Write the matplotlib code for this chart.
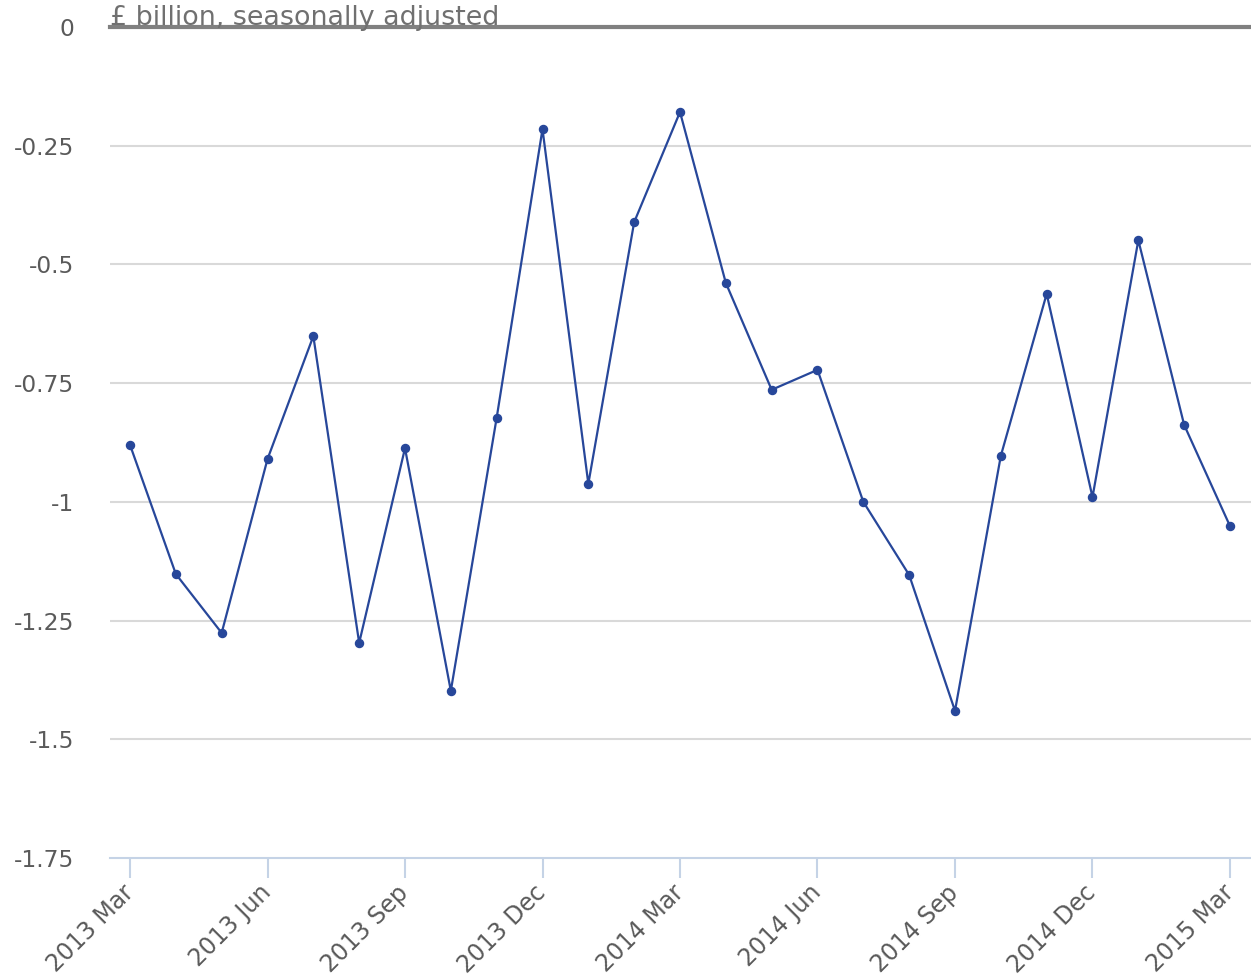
import numpy as np
import matplotlib
matplotlib.use("Agg")
import matplotlib.pyplot as plt
from matplotlib.transforms import ScaledTranslation

# monthly values, 2013 Mar .. 2015 Mar
months = ['2013 Mar', '2013 Apr', '2013 May', '2013 Jun', '2013 Jul', '2013 Aug',
          '2013 Sep', '2013 Oct', '2013 Nov', '2013 Dec', '2014 Jan', '2014 Feb',
          '2014 Mar', '2014 Apr', '2014 May', '2014 Jun', '2014 Jul', '2014 Aug',
          '2014 Sep', '2014 Oct', '2014 Nov', '2014 Dec', '2015 Jan', '2015 Feb',
          '2015 Mar']
values = [-0.880, -1.152, -1.276, -0.910, -0.651, -1.297,
          -0.887, -1.398, -0.823, -0.215, -0.962, -0.411,
          -0.179, -0.539, -0.764, -0.722, -1.000, -1.154,
          -1.440, -0.903, -0.562, -0.990, -0.449, -0.838,
          -1.051]
y_ticks = [0, -0.25, -0.5, -0.75, -1, -1.25, -1.5, -1.75]
y_labels = ['0', '-0.25', '-0.5', '-0.75', '-1', '-1.25', '-1.5', '-1.75']
subtitle = '£ billion, seasonally adjusted'

W, H = 1251, 977
fig = plt.figure(figsize=(W / 100, H / 100), dpi=100)
ax = fig.add_axes([110 / W, 1 - 858 / H, 1141 / W, 831 / H])

x = np.arange(len(values))
ax.plot(x, values, color='#27479a', lw=1.6, marker='o', ms=5.8, zorder=3, clip_on=False)

ax.set_ylim(-1.75, 0)
ax.set_xlim(-20 / 45.83, 24 + 21 / 45.83)

# grid and zero line
for yv in y_ticks[1:-1]:
    ax.axhline(yv, color='#d9d9d9', lw=1.5, zorder=1)
ax.axhline(0, color='#808080', lw=3, zorder=2, clip_on=False)

for s in ['top', 'left', 'right']:
    ax.spines[s].set_visible(False)
ax.spines['bottom'].set_color('#c5d3e6')
ax.spines['bottom'].set_linewidth(1.5)

ax.set_yticks(y_ticks)
ax.set_yticklabels(y_labels)
ax.tick_params(axis='y', length=0, pad=26, labelsize=16.8, labelcolor='#5a5a5a')

qidx = list(range(0, len(months), 3))
ax.set_xticks(qidx)
ax.set_xticklabels([months[i] for i in qidx], rotation=45, ha='right',
                   va='center', rotation_mode='anchor')
ax.tick_params(axis='x', length=14.4, width=1.5, color='#c5d3e6', labelsize=17,
               labelcolor='#5a5a5a', pad=8)

t = ax.text(0, 1.0, subtitle, transform=ax.transAxes, fontsize=19.4, color='#707070',
            va='baseline', ha='left')
t.set_transform(ax.transAxes + ScaledTranslation(0, 1.5 / 72, fig.dpi_scale_trans))

fig.savefig('out.png', dpi=100)
